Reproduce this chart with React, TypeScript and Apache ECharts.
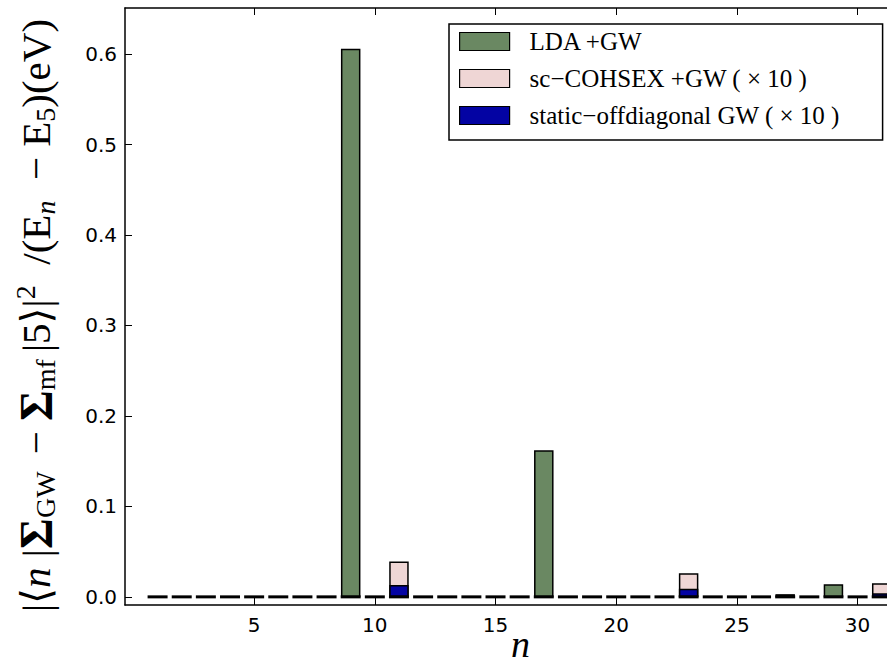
import React, { useEffect, useRef } from "react";
import * as echarts from "echarts";

const nValues = [1, 2, 3, 4, 5, 6, 7, 8, 9, 10, 11, 12, 13, 14, 15, 16, 17, 18, 19, 20, 21, 22, 23, 24, 25, 26, 27, 28, 29, 30, 31];
const ldaGW = [0, 0, 0, 0, 0, 0, 0, 0, 0.606, 0, 0, 0, 0, 0, 0, 0, 0.162, 0, 0, 0, 0, 0, 0, 0, 0, 0, 0.003, 0, 0.014, 0, 0];
const cohsexGW = [0, 0, 0, 0, 0, 0, 0, 0, 0, 0, 0.039, 0, 0, 0, 0, 0, 0, 0, 0, 0, 0, 0, 0.026, 0, 0, 0, 0, 0, 0, 0, 0.015];
const staticGW = [0, 0, 0, 0, 0, 0, 0, 0, 0, 0, 0.013, 0, 0, 0, 0, 0, 0, 0, 0, 0, 0, 0, 0.009, 0, 0, 0, 0, 0, 0, 0, 0.004];
const xTicks = [5, 10, 15, 20, 25, 30];
const yTicks = [0, 0.1, 0.2, 0.3, 0.4, 0.5, 0.6];
const seriesNames = ["LDA +GW", "sc\u2212COHSEX +GW ( \u00d7 10 )", "static\u2212offdiagonal GW ( \u00d7 10 )"];
const seriesColors = ["#6a8862", "#efd6d5", "#0303a3"];

const SERIF = "'Liberation Serif', 'DejaVu Serif', serif";
const SANS = "'DejaVu Sans', sans-serif";

function toPairs(vals: number[]) {
  return nValues.map((n, i) => [n, vals[i]]).filter((p) => p[1] > 0);
}

export default function App() {
  const ref = useRef<HTMLDivElement>(null);
  useEffect(() => {
    if (!ref.current) return;
    const chart = echarts.init(ref.current, null, { renderer: "svg" });
    const barCommon = (name: string, color: string, vals: number[], z: number) => ({
      name,
      type: "bar",
      xAxisIndex: 0,
      yAxisIndex: 0,
      data: toPairs(vals),
      barWidth: 19.5,
      barGap: "-100%",
      z,
      itemStyle: { color, borderColor: "#000", borderWidth: 1.5 },
    });
    const axisLineStyle = { color: "#000", width: 1.5 };
    chart.setOption({
      animation: false,
      backgroundColor: "#fff",
      grid: { left: 125, top: 8, width: 805, height: 597, containLabel: false, outerBoundsMode: "none" },
      legend: {
        orient: "vertical",
        left: 449,
        top: 24,
        data: seriesNames,
        icon: "rect",
        itemWidth: 50,
        itemHeight: 18,
        itemGap: 12,
        padding: [5, 12, 12, 10],
        borderColor: "#000",
        borderWidth: 1.5,
        borderRadius: 0,
        backgroundColor: "#fff",
        selectedMode: false,
        textStyle: {
          fontFamily: SERIF,
          fontSize: 25,
          color: "#000",
          lineHeight: 18,
          padding: [0, 0, 0, 15],
          width: 341,
        },
        itemStyle: { borderColor: "#000", borderWidth: 1.2 },
        z: 10,
      },
      xAxis: [
        {
          type: "value",
          min: -0.35,
          max: 33,
          position: "bottom",
          name: "n",
          nameLocation: "middle",
          nameGap: 20,
          nameMoveOverlap: false,
          nameTextStyle: { fontFamily: SERIF, fontStyle: "italic", fontSize: 38, color: "#000", padding: [0, 14, 0, 0] },
          axisLine: { show: true, onZero: false, lineStyle: axisLineStyle },
          axisTick: { show: true, inside: true, length: 7, customValues: xTicks, lineStyle: { color: "#000", width: 1 } },
          axisLabel: { customValues: xTicks, fontFamily: SANS, fontSize: 20, color: "#000", margin: 10 },
          splitLine: { show: false },
        },
        {
          type: "value",
          min: -0.35,
          max: 33,
          position: "top",
          axisLine: { show: true, onZero: false, lineStyle: axisLineStyle },
          axisTick: { show: true, inside: true, length: 7, customValues: xTicks, lineStyle: { color: "#000", width: 1 } },
          axisLabel: { show: false },
          splitLine: { show: false },
        },
      ],
      yAxis: {
        type: "value",
        min: -0.009,
        max: 0.651,
        name:
          "{t|\u007c\u27e8}{i|n }{t|\u007c}{b|\u03a3}{s|GW }{t| \u2212 }{b|\u03a3}{s|mf }{t|\u007c5\u27e9\u007c}{p|2}{t|  /(E}{si|n}{t|  \u2212 E}{s|5}{t|)(eV)}",
        nameLocation: "middle",
        nameGap: 64,
        nameRotate: 90,
        nameTextStyle: {
          color: "#000",
          padding: [0, 18, 0, 0],
          rich: {
            t: { fontFamily: SERIF, fontSize: 41, color: "#000" },
            i: { fontFamily: SERIF, fontSize: 41, fontStyle: "italic", color: "#000" },
            b: { fontFamily: SERIF, fontSize: 47, fontWeight: "bold", color: "#000" },
            s: { fontFamily: SERIF, fontSize: 28, color: "#000", padding: [18, 0, 0, 0] },
            si: { fontFamily: SERIF, fontSize: 28, fontStyle: "italic", color: "#000", padding: [18, 0, 0, 0] },
            p: { fontFamily: SERIF, fontSize: 28, color: "#000", padding: [0, 0, 22, 0] },
          },
        },
        axisLine: { show: true, onZero: false, lineStyle: axisLineStyle },
        axisTick: { show: true, inside: true, length: 7, customValues: yTicks, lineStyle: { color: "#000", width: 1 } },
        axisLabel: {
          customValues: yTicks,
          fontFamily: SANS,
          fontSize: 20,
          color: "#000",
          margin: 8,
          formatter: (v: number) => v.toFixed(1),
        },
        splitLine: { show: false },
      },
      series: [
        {
          name: "baseline",
          type: "scatter",
          data: nValues.map((n) => [n, 0]),
          symbol: "rect",
          symbolSize: [20, 3],
          itemStyle: { color: "#000", opacity: 1 },
          z: 1,
          silent: true,
        },
        barCommon(seriesNames[0], seriesColors[0], ldaGW, 2),
        barCommon(seriesNames[1], seriesColors[1], cohsexGW, 3),
        barCommon(seriesNames[2], seriesColors[2], staticGW, 4),
      ],
    });
    return () => chart.dispose();
  }, []);
  return <div ref={ref} style={{ position: "fixed", left: 0, top: 0, width: 887, height: 664 }} />;
}
